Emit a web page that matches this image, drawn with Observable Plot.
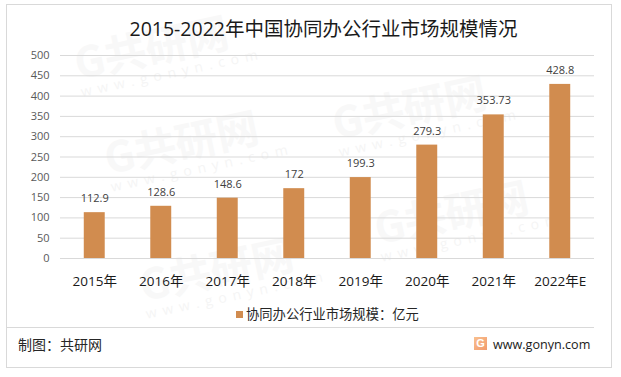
<!DOCTYPE html>
<html><head><meta charset="utf-8">
<script src="https://cdn.jsdelivr.net/npm/d3@7"></script>
<script src="https://cdn.jsdelivr.net/npm/@observablehq/plot@0.6"></script>
<style>
html,body{margin:0;padding:0;background:#fff}
body{font-family:"Open Sans","Noto Sans CJK SC",sans-serif;width:621px;height:377px;overflow:hidden}
#page{position:relative;width:621px;height:377px;overflow:hidden}
#page>*{position:absolute}
#frame{left:6px;top:4px;width:604px;height:362px;border:1px solid #d9d9d9}
#title{left:0;width:621px;top:15px;text-align:center;font-size:19.5px;line-height:28px;color:#1a1a1a;white-space:nowrap;padding-left:26px;box-sizing:border-box;}
#legend{left:236px;top:303px;font-size:13.3px;line-height:22px;color:#262626;white-space:nowrap}
#legend i{display:inline-block;width:7px;height:7px;background:#d18c4f;margin-right:3px;vertical-align:1px}
#sep{left:6px;top:327px;width:588px;height:1px;background:#d9d9d9}
#credit{left:18px;top:335px;font-size:14px;line-height:20px;color:#262626}
#site{left:493px;top:335px;font-size:12.6px;line-height:20px;color:#1a1a1a}
#logo{left:474px;top:337px;width:13px;height:13px;background:linear-gradient(135deg,#f9c08f,#f29a6c);color:#fff;font:bold 11px/13px "Liberation Sans";text-align:center}
.wm{color:#f8f8f8;font-weight:700;font-size:42px;line-height:44px;transform:rotate(-12deg);transform-origin:left top;white-space:nowrap;font-family:"Noto Sans CJK SC"}
.wm small{display:block;font-size:14px;line-height:18px;letter-spacing:6px;font-weight:400;font-family:"Open Sans";color:#f5f5f5}
</style></head><body>
<div id="page"></div>
<script>
const years = ["2015年","2016年","2017年","2018年","2019年","2020年","2021年","2022年E"];
const marketSize = [112.9,128.6,148.6,172,199.3,279.3,353.73,428.8];
const titleText = "2015-2022年中国协同办公行业市场规模情况";
const seriesName = "协同办公行业市场规模：亿元";
const yTicks = [0,50,100,150,200,250,300,350,400,450,500];
const watermarks = [[70,40],[100,135],[328,100],[135,262],[370,205]];
const rows = years.map((year,i)=>({year,value:marketSize[i]}));
const page = document.getElementById("page");
const add=(id,html)=>{const d=document.createElement("div");if(id)d.id=id;d.innerHTML=html;page.appendChild(d);return d;};
for(const [x,y] of watermarks){
  const d=add("", 'G共研网<small>www.gonyn.com</small>');
  d.className="wm"; d.style.left=x+"px"; d.style.top=y+"px";
}
add("frame","");
const chart = Plot.plot({
  width:621,height:377,
  marginTop:55,marginBottom:119,marginLeft:60,marginRight:27,
  style:{background:"transparent",fontFamily:'"Open Sans","Noto Sans CJK SC",sans-serif',overflow:"visible"},
  x:{domain:years,paddingInner:0.685,paddingOuter:0.3425,round:false,insetLeft:1,insetRight:1,label:null},
  y:{domain:[0,500],label:null},
  marks:[
    Plot.gridY(yTicks,{stroke:"#d9d9d9",strokeOpacity:1,strokeWidth:1}),
    Plot.barY(rows,{x:"year",y:"value",fill:"#d18c4f"}),
    Plot.ruleY([0],{stroke:"#d9d9d9"}),
    Plot.axisY(yTicks,{tickSize:0,tickPadding:11,fontSize:11,fill:"#595959",label:null,tickFormat:d=>d}),
    Plot.axisX(years,{tickSize:0,tickPadding:18,fontSize:13.5,fill:"#1a1a1a",label:null}),
    Plot.text(rows,{x:"year",y:"value",text:d=>String(d.value),dy:-14,fontSize:11,fill:"#404040"})
  ]
});
chart.style.left="0";chart.style.top="0";
page.appendChild(chart);
add("title",titleText);
add("legend",'<i></i>'+seriesName);
add("sep","");
add("credit","制图：共研网");
add("logo","G");
add("site","www.gonyn.com");
</script></body></html>
